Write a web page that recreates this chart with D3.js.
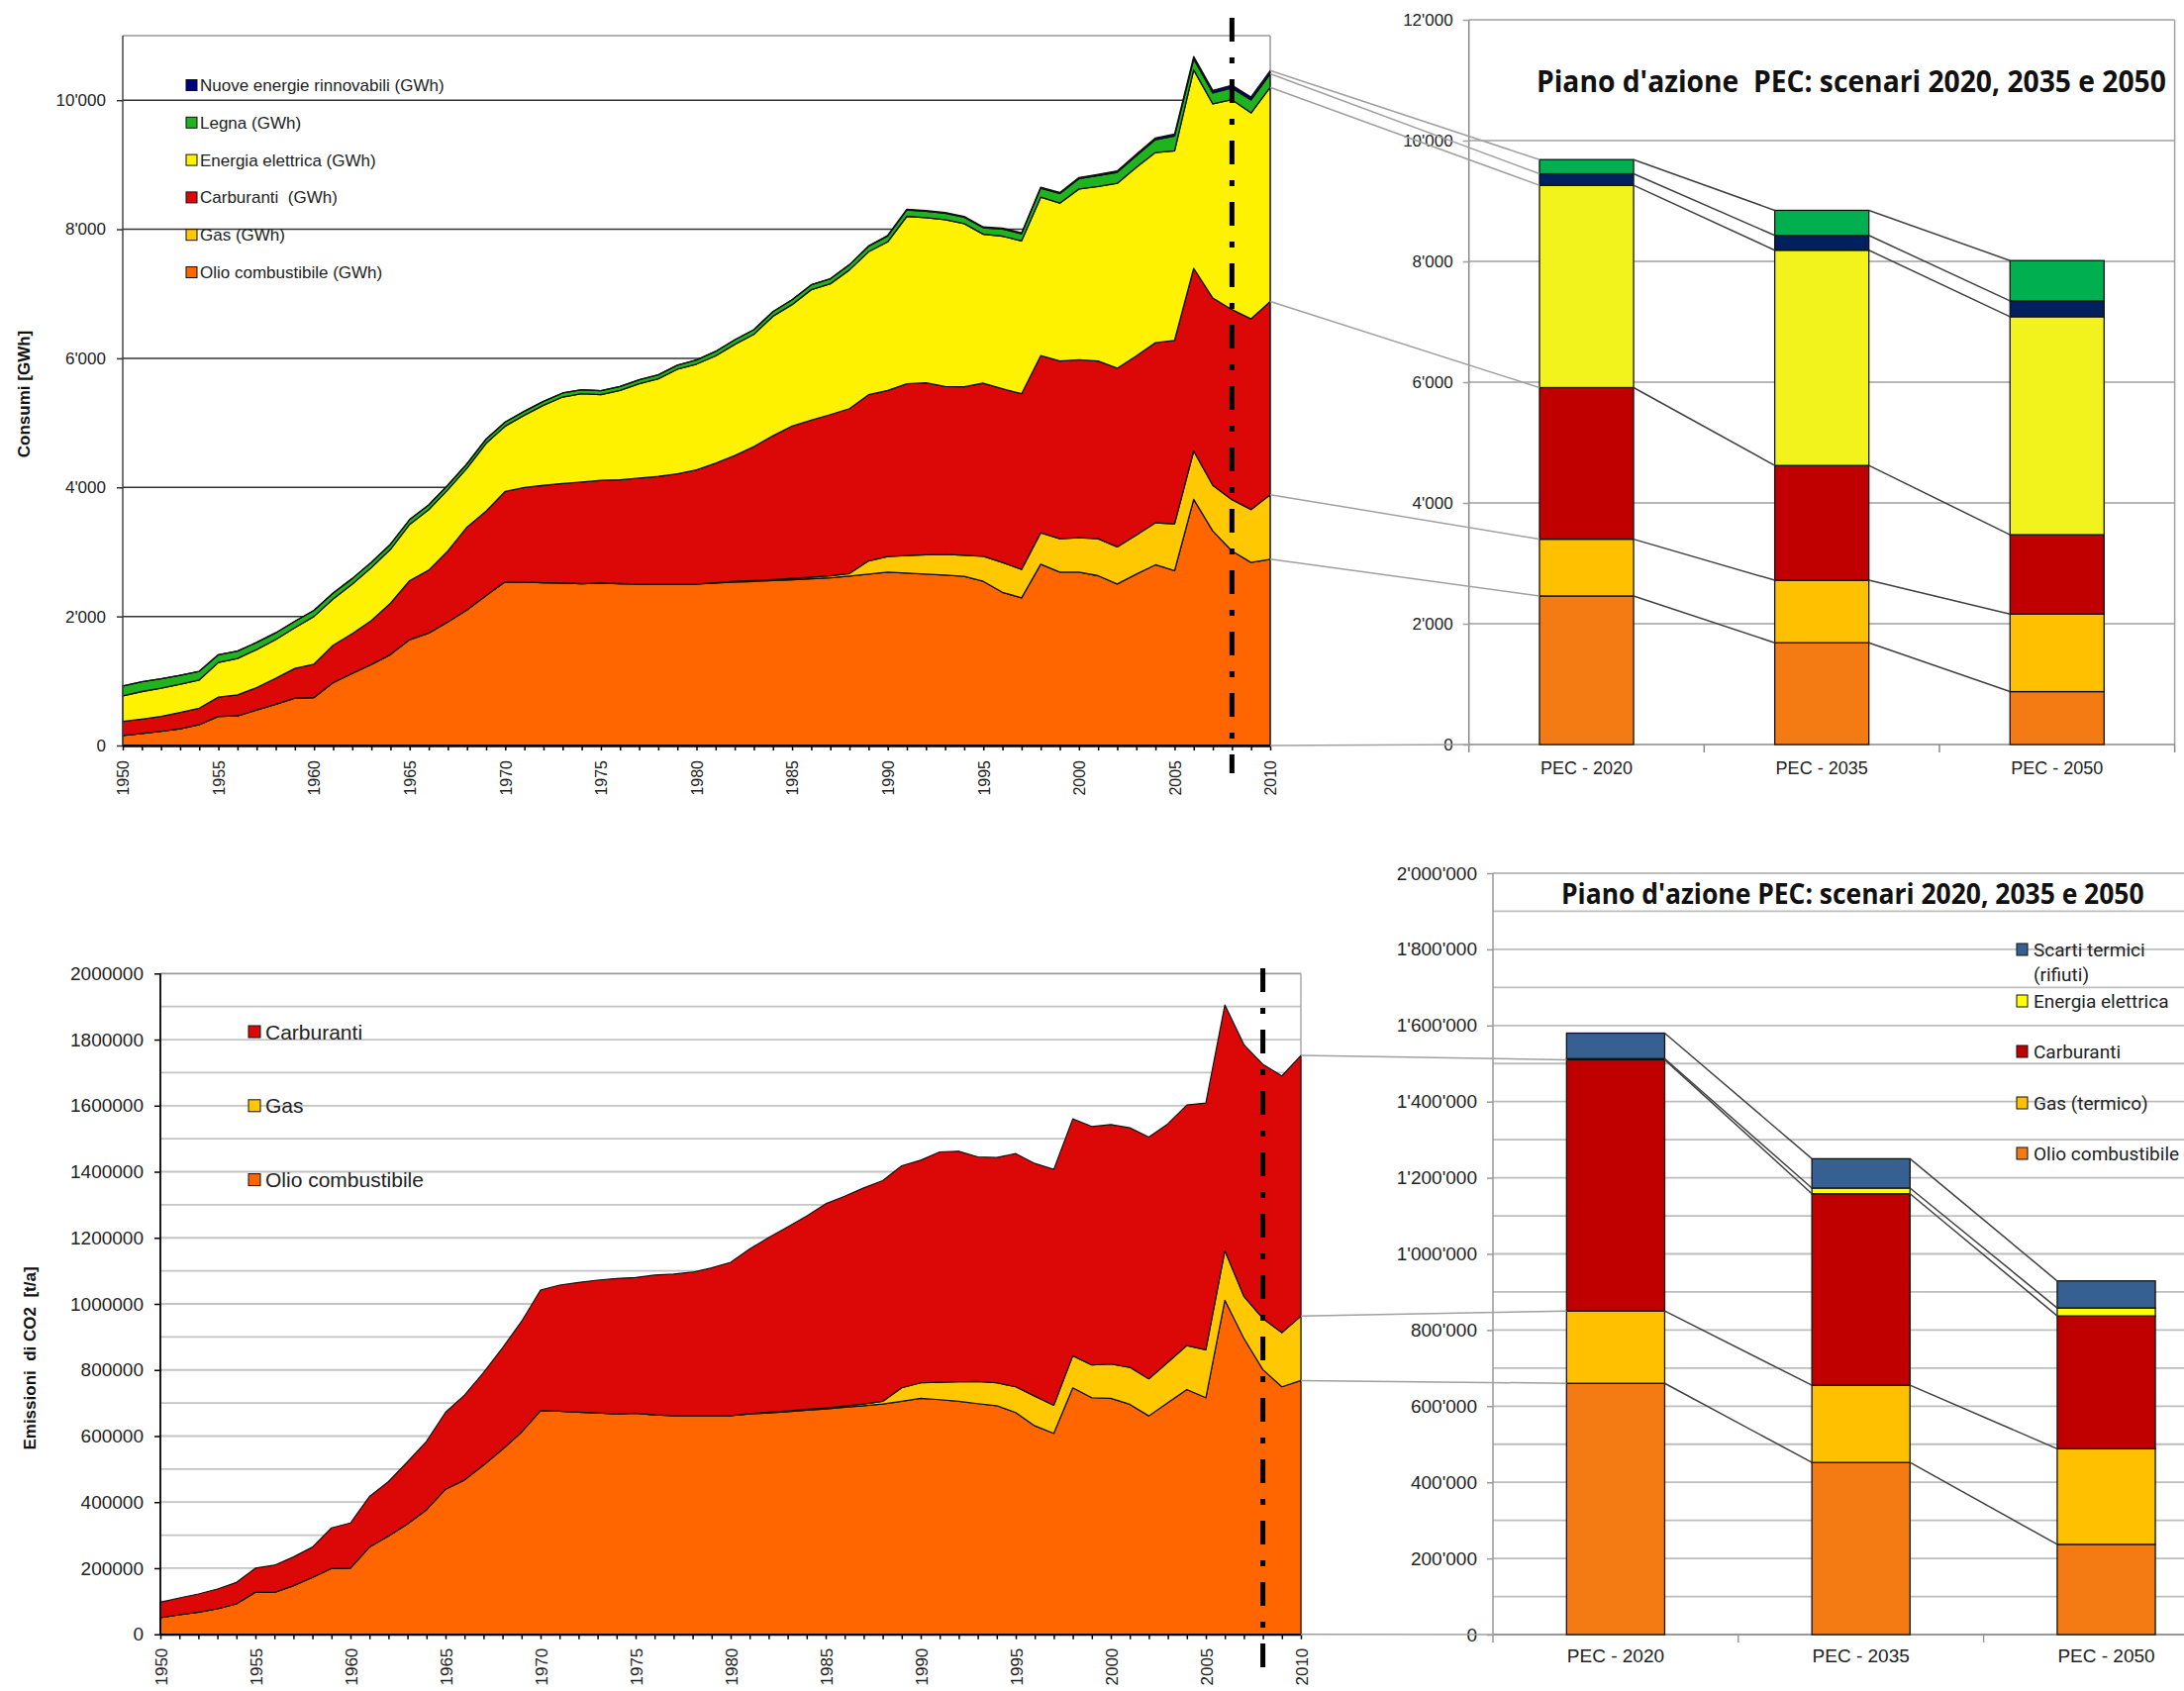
<!DOCTYPE html>
<html>
<head>
<meta charset="utf-8">
<script src="https://cdn.jsdelivr.net/npm/d3@7"></script>
<style>
  body { margin: 0; background: #fff; }
  svg { display: block; font-family: "Liberation Sans", Arial, sans-serif; }
</style>
</head>
<body>
<svg id="chart" width="2206" height="1708"></svg>
<script>
// ---- data: energy consumption 1950-2010 (GWh) ----
const years = d3.range(1950, 2011);

const consOlio = [154,185,220,260,323,450,460,550,640,733,
  743,974,1118,1256,1410,1641,1744,1913,2102,2323,
  2538,2533,2523,2518,2508,2518,2508,2503,2503,2503,
  2503,2518,2533,2543,2555,2569,2585,2600,2625,2656,
  2687,2672,2656,2641,2620,2543,2374,2287,2810,2687,
  2687,2631,2503,2656,2800,2708,3815,3323,3015,2836,
  2887];
const consGas = [0,0,0,0,0,0,0,0,0,0,
  0,0,0,0,0,0,0,0,0,0,
  0,0,0,0,0,0,0,0,0,0,
  0,5,10,12,15,20,25,30,40,205,
  241,271,298,323,329,390,462,441,487,518,
  533,574,574,605,651,728,749,708,795,820,
  1000];
const consCarb = [220,225,231,253,256,299,325,347,401,462,
  518,580,615,682,795,913,974,1102,1282,1308,
  1400,1467,1508,1543,1574,1590,1610,1640,1666,1707,
  1769,1851,1949,2076,2230,2360,2431,2498,2555,2575,
  2574,2662,2666,2600,2610,2682,2692,2723,2744,2754,
  2759,2754,2769,2776,2791,2842,2831,2903,2945,2955,
  2995];
const consElett = [395,426,436,436,436,538,564,590,600,631,
  739,718,769,821,836,872,938,949,913,1051,
  1011,1118,1241,1339,1369,1328,1384,1462,1513,1620,
  1638,1663,1724,1740,1852,1883,2022,2027,2150,2215,
  2303,2595,2559,2584,2527,2308,2365,2369,2456,2445,
  2645,2702,2866,2921,2947,2936,3074,3008,3253,3192,
  3317];
const consLegna = [154,150,145,140,135,120,115,110,105,100,
  95,90,85,80,78,75,72,70,68,66,
  64,62,62,62,62,62,62,62,62,62,
  65,70,70,72,72,75,75,78,80,85,
  90,100,100,100,100,100,110,110,140,150,
  160,170,170,180,200,230,170,170,180,200,
  210];
const consNuove = [0,0,0,0,0,0,0,0,0,0,
  0,0,0,0,0,0,0,0,0,0,
  0,0,0,0,0,0,0,0,0,0,
  0,0,0,0,0,0,0,0,0,5,
  10,10,10,12,12,12,14,15,15,16,
  18,20,22,24,26,30,36,40,44,46,
  50];
const consTicks = [0, 2000, 4000, 6000, 8000, 10000];

// ---- data: CO2 emissions 1950-2010 (t/a) ----
const co2Olio = [50000,59000,67000,77000,92000,127000,127000,147000,172000,199000,
  200000,264000,297000,334000,377000,439000,467000,512000,560000,612000,
  677000,675000,672000,670000,667000,669000,664000,662000,662000,662000,
  662000,667000,670000,674000,678000,682000,687000,692000,697000,705000,
  714000,710000,705000,698000,692000,671000,631000,608000,746000,716000,
  714000,696000,661000,701000,741000,716000,1011000,896000,801000,749000,
  768000];
const co2Gas = [0,0,0,0,0,0,0,0,0,0,
  0,0,0,0,0,0,0,0,0,0,
  0,0,0,0,0,0,0,0,0,0,
  0,1000,2000,2000,3000,3000,4000,5000,8000,41000,
  47000,53000,59000,67000,69000,78000,90000,85000,97000,99000,
  104000,112000,112000,122000,133000,145000,150000,127000,155000,164000,
  195000];
const co2Carb = [47000,51000,55000,60000,65000,73000,82000,87000,92000,123000,
  137000,153000,165000,188000,207000,233000,257000,280000,307000,335000,
  365000,382000,393000,402000,410000,411000,423000,428000,434000,447000,
  464000,498000,529000,557000,585000,618000,635000,654000,668000,672000,
  674000,697000,698000,680000,682000,706000,704000,714000,717000,722000,
  725000,725000,732000,722000,728000,747000,744000,762000,769000,777000,
  789000];
const co2Ticks = [0,200000,400000,600000,800000,1000000,1200000,1400000,1600000,1800000,2000000];
const co2Grid = d3.range(100000, 2000001, 100000);

// ---- data: PEC scenarios ----
const pecLabels = ["PEC - 2020", "PEC - 2035", "PEC - 2050"];
const pecOlio  = [2460, 1685, 876];
const pecGas   = [940, 1035, 1285];
const pecCarb  = [2510, 1900, 1313];
const pecElett = [3350, 3565, 3609];
const pecNuove = [190, 245, 263];
const pecLegna = [235, 415, 667];
const pecTicks = [0, 2000, 4000, 6000, 8000, 10000, 12000];

const pecCo2Olio   = [660000, 452000, 237000];
const pecCo2Gas    = [190000, 203000, 251000];
const pecCo2Carb   = [660000, 503000, 349000];
const pecCo2Elett  = [3000, 15000, 21000];
const pecCo2Scarti = [67000, 77000, 71000];
const pecCo2Ticks = [0,200000,400000,600000,800000,1000000,1200000,1400000,1600000,1800000,2000000];

// ---- setup ----
const W = 2206, H = 1708;
const svg = d3.select("#chart");
svg.append("rect").attr("width", W).attr("height", H).attr("fill", "#fff");

const fmtApos = d => d3.format(",")(d).replace(/,/g, "'");
const txtCol = "#222";

function styleAxisText(g, size) {
  g.attr("font-size", null).attr("font-family", null);
  g.selectAll("text").style("font-size", size + "px").attr("fill", txtCol);
}

function line(g, x1, y1, x2, y2, col, w) {
  return g.append("line").attr("x1", x1).attr("y1", y1).attr("x2", x2).attr("y2", y2)
    .attr("stroke", col).attr("stroke-width", w);
}

// condensed bold title: squeeze horizontally to the wanted width
function drawTitle(x, y, size, width, label) {
  const t = svg.append("text").attr("x", 0).attr("y", 0)
    .attr("font-family", "'Open Sans', 'Noto Sans', sans-serif").attr("font-weight", "bold")
    .attr("font-size", size).attr("fill", "#111").style("white-space", "pre")
    .text(label);
  const len = t.node().getComputedTextLength();
  t.attr("transform", `translate(${x},${y}) scale(${width / len},1)`);
  return t;
}

// =============== TOP LEFT: consumi ===============
const xTL = d3.scaleLinear().domain([1950, 2010]).range([124, 1283]);
const yTL = d3.scaleLinear().domain([0, 11000]).range([753, 36]);

const consKeys = ["olio", "gas", "carb", "elett", "legna", "nuove"];
const consColors = { olio: "#FF6600", gas: "#FFC800", carb: "#DC0808", elett: "#FFF200", legna: "#1FB31F", nuove: "#000080" };
const consRows = years.map((yr, i) => ({
  year: yr, olio: consOlio[i], gas: consGas[i], carb: consCarb[i],
  elett: consElett[i], legna: consLegna[i], nuove: consNuove[i]
}));
const consStack = d3.stack().keys(consKeys)(consRows);

const gTL = svg.append("g");
// frame
line(gTL, xTL(1950), yTL(11000), xTL(2010), yTL(11000), "#999", 1.5);
line(gTL, xTL(2010), yTL(11000), xTL(2010), yTL(0), "#999", 1.5);
// gridlines
consTicks.filter(d => d > 0).forEach(d => line(gTL, xTL(1950), yTL(d), xTL(2010), yTL(d), "#333", 1.5));

const areaTL = d3.area()
  .x(d => xTL(d.data.year)).y0(d => yTL(d[0])).y1(d => yTL(d[1]));
gTL.selectAll("path.layer").data(consStack).join("path")
  .attr("class", "layer")
  .attr("d", areaTL)
  .attr("fill", d => consColors[d.key])
  .attr("stroke", "#111").attr("stroke-width", 1.3).attr("stroke-linejoin", "round");

line(gTL, xTL(1950), yTL(11000), xTL(1950), yTL(0), "#444", 1.5);

const gTLy = svg.append("g").attr("transform", `translate(${xTL(1950)},0)`)
  .call(d3.axisLeft(yTL).tickValues(consTicks).tickSize(6).tickPadding(11).tickFormat(fmtApos));
gTLy.select(".domain").remove();
gTLy.selectAll(".tick line").attr("stroke", "#333").attr("stroke-width", 1.5);
styleAxisText(gTLy, 17);

const gTLx = svg.append("g").attr("transform", `translate(0,${yTL(0)})`)
  .call(d3.axisBottom(xTL).tickValues(years).tickSize(5).tickSizeOuter(0)
    .tickFormat(d => d % 5 === 0 ? d : ""));
gTLx.select(".domain").attr("stroke", "#000").attr("stroke-width", 2.5);
gTLx.selectAll(".tick line").attr("stroke", "#000").attr("stroke-width", 1.5);
styleAxisText(gTLx, 16);
gTLx.selectAll("text").attr("transform", "rotate(-90)").attr("x", -15).attr("y", 0)
  .attr("dy", "0.36em").style("text-anchor", "end");

svg.append("text").attr("transform", `translate(30,398) rotate(-90)`)
  .attr("text-anchor", "middle").attr("font-weight", "bold").attr("font-size", 17)
  .attr("fill", "#111").text("Consumi [GWh]");

// legend
const legTL = [
  ["nuove", "Nuove energie rinnovabili (GWh)"],
  ["legna", "Legna (GWh)"],
  ["elett", "Energia elettrica (GWh)"],
  ["carb", "Carburanti  (GWh)"],
  ["gas", "Gas (GWh)"],
  ["olio", "Olio combustibile (GWh)"]
];
legTL.forEach(([k, lab], i) => {
  const cy = 86 + i * 37.8;
  svg.append("rect").attr("x", 188).attr("y", cy - 5.5).attr("width", 11).attr("height", 11)
    .attr("fill", consColors[k]).attr("stroke", "#111").attr("stroke-width", 1);
  svg.append("text").attr("x", 202).attr("y", cy + 6).attr("font-size", 17)
    .attr("fill", txtCol).style("white-space", "pre").text(lab);
});

// =============== TOP RIGHT: PEC consumi ===============
const xTR = d3.scaleBand().domain(pecLabels).range([1483.7, 2196.6]).paddingInner(0.6).paddingOuter(0.3);
const yTR = d3.scaleLinear().domain([0, 12000]).range([752, 20]);
const pecKeys = ["olio", "gas", "carb", "elett", "nuove", "legna"];
const pecColors = { olio: "#F47A14", gas: "#FFC000", carb: "#C00000", elett: "#F2F21C", nuove: "#002060", legna: "#00B050" };
const pecRows = pecLabels.map((c, i) => ({
  cat: c, olio: pecOlio[i], gas: pecGas[i], carb: pecCarb[i],
  elett: pecElett[i], nuove: pecNuove[i], legna: pecLegna[i]
}));
const pecStack = d3.stack().keys(pecKeys)(pecRows);

const gTR = svg.append("g");
pecTicks.filter(d => d > 0).forEach(d => line(gTR, xTR.range()[0], yTR(d), xTR.range()[1], yTR(d), "#A0A0A0", 1.5));
line(gTR, xTR.range()[1], yTR(12000), xTR.range()[1], yTR(0), "#A0A0A0", 1.5);
line(gTR, xTR.range()[0], yTR(12000), xTR.range()[0], yTR(0), "#888", 1.5);
line(gTR, xTR.range()[0], yTR(0), xTR.range()[1], yTR(0), "#888", 1.5);
for (let i = 0; i <= pecLabels.length; i++) {
  const xx = xTR.range()[0] + i * xTR.step();
  line(gTR, xx, yTR(0), xx, yTR(0) + 8, "#888", 1.5);
}

gTR.selectAll("g.bar").data(pecStack).join("g").attr("class", "bar")
  .attr("fill", d => pecColors[d.key])
  .selectAll("rect").data(d => d).join("rect")
  .attr("x", d => xTR(d.data.cat)).attr("width", xTR.bandwidth())
  .attr("y", d => yTR(d[1])).attr("height", d => yTR(d[0]) - yTR(d[1]))
  .attr("stroke", "#111").attr("stroke-width", 1.3);

const gTRy = svg.append("g").attr("transform", `translate(${xTR.range()[0]},0)`)
  .call(d3.axisLeft(yTR).tickValues(pecTicks).tickSize(6).tickPadding(10).tickFormat(fmtApos));
gTRy.select(".domain").remove();
gTRy.selectAll(".tick line").attr("stroke", "#A0A0A0").attr("stroke-width", 1.5);
styleAxisText(gTRy, 17);

const gTRx = svg.append("g").attr("transform", `translate(0,${yTR(0)})`)
  .call(d3.axisBottom(xTR).tickSize(0).tickPadding(17));
gTRx.select(".domain").remove();
styleAxisText(gTRx, 18);

drawTitle(1552, 93, 30, 636, "Piano d'azione  PEC: scenari 2020, 2035 e 2050");

// connectors: left chart 2010 -> PEC 2020, and between bars
const gConTop = svg.append("g");
const lastTL = consStack.map(s => s[s.length - 1][1]);
const firstTR = pecStack.map(s => s[0][1]);
line(gConTop, xTL(2010), yTL(0), xTR.range()[0], yTR(0), "#A0A0A0", 1.5);
lastTL.forEach((v, k) => {
  line(gConTop, xTL(2010), yTL(v), xTR(pecLabels[0]), yTR(firstTR[k]), "#A0A0A0", 1.5);
});
for (let i = 0; i < pecLabels.length - 1; i++) {
  pecStack.forEach(s => {
    line(gConTop, xTR(pecLabels[i]) + xTR.bandwidth(), yTR(s[i][1]), xTR(pecLabels[i + 1]), yTR(s[i + 1][1]), "#404040", 1.5);
  });
}

// dash-dot marker at 2008
svg.append("line").attr("x1", xTL(2008)).attr("x2", xTL(2008)).attr("y1", 18).attr("y2", 781)
  .attr("stroke", "#000").attr("stroke-width", 5).attr("stroke-dasharray", "24 16 6 16");

// =============== BOTTOM LEFT: CO2 ===============
const xBL = d3.scaleLinear().domain([1950, 2010]).range([162, 1314]);
const yBL = d3.scaleLinear().domain([0, 2000000]).range([1650.7, 983.3]);
const co2Keys = ["olio", "gas", "carb"];
const co2Colors = { olio: "#FF6600", gas: "#FFC800", carb: "#DC0808" };
const co2Rows = years.map((yr, i) => ({ year: yr, olio: co2Olio[i], gas: co2Gas[i], carb: co2Carb[i] }));
const co2Stack = d3.stack().keys(co2Keys)(co2Rows);

const gBL = svg.append("g");
co2Grid.forEach(d => line(gBL, xBL(1950), yBL(d), xBL(2010), yBL(d), d === 2000000 ? "#999" : "#C4C4C4", 1.8));
line(gBL, xBL(2010), yBL(2000000), xBL(2010), yBL(0), "#A8A8A8", 1.5);

const areaBL = d3.area()
  .x(d => xBL(d.data.year)).y0(d => yBL(d[0])).y1(d => yBL(d[1]));
gBL.selectAll("path.layer").data(co2Stack).join("path")
  .attr("class", "layer")
  .attr("d", areaBL)
  .attr("fill", d => co2Colors[d.key])
  .attr("stroke", "#111").attr("stroke-width", 1.2).attr("stroke-linejoin", "round");

line(gBL, xBL(1950), yBL(2000000), xBL(1950), yBL(0), "#000", 1.8);

const gBLy = svg.append("g").attr("transform", `translate(${xBL(1950)},0)`)
  .call(d3.axisLeft(yBL).tickValues(co2Ticks).tickSize(6).tickPadding(11).tickFormat(d3.format("d")));
gBLy.select(".domain").remove();
gBLy.selectAll(".tick line").attr("stroke", "#000").attr("stroke-width", 1.5);
styleAxisText(gBLy, 19);

const gBLx = svg.append("g").attr("transform", `translate(0,${yBL(0)})`)
  .call(d3.axisBottom(xBL).tickValues(years).tickSize(5).tickSizeOuter(0)
    .tickFormat(d => d % 5 === 0 ? d : ""));
gBLx.select(".domain").attr("stroke", "#000").attr("stroke-width", 2);
gBLx.selectAll(".tick line").attr("stroke", "#000").attr("stroke-width", 1.5);
styleAxisText(gBLx, 17);
gBLx.selectAll("text").attr("transform", "rotate(-90)").attr("x", -14).attr("y", 0)
  .attr("dy", "0.36em").style("text-anchor", "end");

svg.append("text").attr("transform", `translate(36,1372) rotate(-90)`)
  .attr("text-anchor", "middle").attr("font-weight", "bold").attr("font-size", 17)
  .attr("fill", "#111").style("white-space", "pre").text("Emissioni  di CO2  [t/a]");

const legBL = [["carb", "Carburanti"], ["gas", "Gas"], ["olio", "Olio combustibile"]];
legBL.forEach(([k, lab], i) => {
  const cy = 1042 + i * 74.8;
  svg.append("rect").attr("x", 251).attr("y", cy - 6).attr("width", 12).attr("height", 12)
    .attr("fill", co2Colors[k]).attr("stroke", "#111").attr("stroke-width", 1);
  svg.append("text").attr("x", 268).attr("y", cy + 7.5).attr("font-size", 21)
    .attr("fill", txtCol).text(lab);
});

// =============== BOTTOM RIGHT: PEC CO2 ===============
const xBR = d3.scaleBand().domain(pecLabels).range([1508, 2251.4]).paddingInner(0.6).paddingOuter(0.3);
const yBR = d3.scaleLinear().domain([0, 2000000]).range([1651, 882]);
const pecCo2Keys = ["olio", "gas", "carb", "elett", "scarti"];
const pecCo2Colors = { olio: "#F47A14", gas: "#FFC000", carb: "#C00000", elett: "#FFFF00", scarti: "#376092" };
const pecCo2Rows = pecLabels.map((c, i) => ({
  cat: c, olio: pecCo2Olio[i], gas: pecCo2Gas[i], carb: pecCo2Carb[i],
  elett: pecCo2Elett[i], scarti: pecCo2Scarti[i]
}));
const pecCo2Stack = d3.stack().keys(pecCo2Keys)(pecCo2Rows);

const gBR = svg.append("g");
co2Grid.forEach(d => line(gBR, xBR.range()[0], yBR(d), W, yBR(d), "#BDBDBD", 1.8));
line(gBR, xBR.range()[0], yBR(2000000), xBR.range()[0], yBR(0), "#999", 1.5);
line(gBR, xBR.range()[0], yBR(0), W, yBR(0), "#999", 1.8);
for (let i = 0; i <= pecLabels.length; i++) {
  const xx = xBR.range()[0] + i * xBR.step();
  line(gBR, xx, yBR(0), xx, yBR(0) + 8, "#999", 1.5);
}

gBR.selectAll("g.bar").data(pecCo2Stack).join("g").attr("class", "bar")
  .attr("fill", d => pecCo2Colors[d.key])
  .selectAll("rect").data(d => d).join("rect")
  .attr("x", d => xBR(d.data.cat)).attr("width", xBR.bandwidth())
  .attr("y", d => yBR(d[1])).attr("height", d => yBR(d[0]) - yBR(d[1]))
  .attr("stroke", "#111").attr("stroke-width", 1.3);

const gBRy = svg.append("g").attr("transform", `translate(${xBR.range()[0]},0)`)
  .call(d3.axisLeft(yBR).tickValues(pecCo2Ticks).tickSize(6).tickPadding(10).tickFormat(fmtApos));
gBRy.select(".domain").remove();
gBRy.selectAll(".tick line").attr("stroke", "#999").attr("stroke-width", 1.5);
styleAxisText(gBRy, 19);

const gBRx = svg.append("g").attr("transform", `translate(0,${yBR(0)})`)
  .call(d3.axisBottom(xBR).tickSize(0).tickPadding(15));
gBRx.select(".domain").remove();
styleAxisText(gBRx, 19);

drawTitle(1577, 913, 28, 589, "Piano d'azione PEC: scenari 2020, 2035 e 2050");

const legBR = [
  ["scarti", ["Scarti termici", "(rifiuti)"], 959],
  ["elett", ["Energia elettrica"], 1011],
  ["carb", ["Carburanti"], 1062],
  ["gas", ["Gas (termico)"], 1114],
  ["olio", ["Olio combustibile"], 1165]
];
legBR.forEach(([k, labs, cy]) => {
  svg.append("rect").attr("x", 2037).attr("y", cy - 6).attr("width", 11).attr("height", 12)
    .attr("fill", pecCo2Colors[k]).attr("stroke", "#111").attr("stroke-width", 1);
  labs.forEach((lab, j) => {
    svg.append("text").attr("x", 2054).attr("y", cy + 6.5 + j * 25)
      .attr("font-family", "Roboto, 'Liberation Sans', sans-serif").attr("font-size", 19)
      .attr("fill", txtCol).text(lab);
  });
});

// connectors bottom
const gConBot = svg.append("g");
const lastBL = co2Stack.map(s => s[s.length - 1][1]);
const firstBR = pecCo2Stack.map(s => s[0][1]);
line(gConBot, xBL(2010), yBL(0), xBR.range()[0], yBR(0), "#A0A0A0", 1.5);
lastBL.forEach((v, k) => {
  line(gConBot, xBL(2010), yBL(v), xBR(pecLabels[0]), yBR(firstBR[k]), "#A0A0A0", 1.5);
});
for (let i = 0; i < pecLabels.length - 1; i++) {
  pecCo2Stack.forEach(s => {
    line(gConBot, xBR(pecLabels[i]) + xBR.bandwidth(), yBR(s[i][1]), xBR(pecLabels[i + 1]), yBR(s[i + 1][1]), "#404040", 1.5);
  });
}

svg.append("line").attr("x1", xBL(2008)).attr("x2", xBL(2008)).attr("y1", 978).attr("y2", 1690)
  .attr("stroke", "#000").attr("stroke-width", 5).attr("stroke-dasharray", "24 16 6 16");
</script>
</body>
</html>
